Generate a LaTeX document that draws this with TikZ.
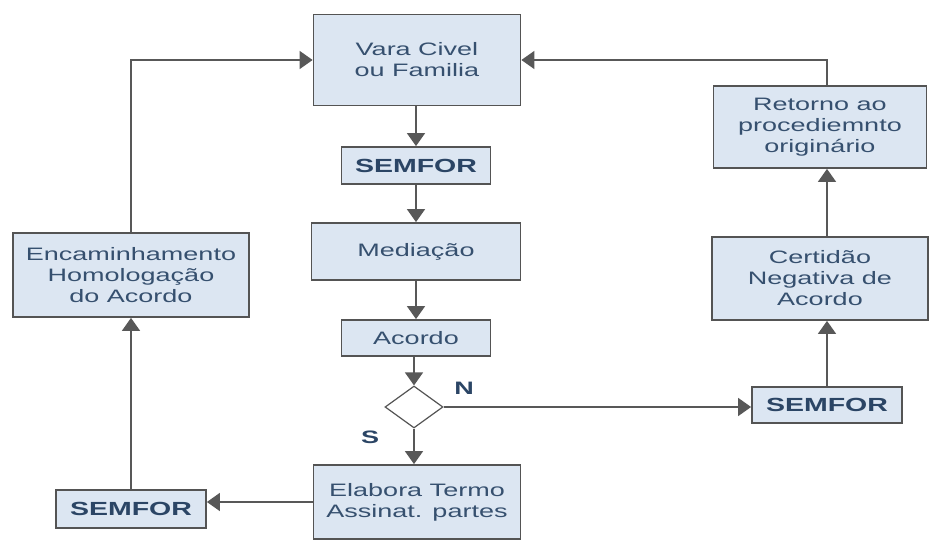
\documentclass[tikz,border=0pt]{standalone}
\usepackage{fontspec}
\setmainfont{Liberation Sans}[FakeStretch=1.5]
\usetikzlibrary{arrows.meta,shapes.geometric}
\definecolor{boxfill}{HTML}{DCE6F2}
\definecolor{boxline}{HTML}{545454}
\definecolor{txtc}{HTML}{36506F}
\definecolor{boldc}{HTML}{2B4565}
\definecolor{arrc}{HTML}{585858}
\tikzset{
  stepbox/.style={draw=boxline, line width=1.8pt, fill=boxfill, text=txtc, align=center, inner sep=0pt, font=\fontsize{18}{21}\selectfont},
  semforbox/.style={stepbox, text=boldc, font=\fontsize{19}{21}\selectfont\bfseries, minimum width=149pt, minimum height=37pt},
  arr/.style={draw=arrc, line width=1.5pt, -{Triangle[length=13pt,width=18pt]}},
  lbl/.style={text=boldc, font=\fontsize{18}{20}\selectfont\bfseries, inner sep=0pt}
}
\begin{document}
\begin{tikzpicture}[x=1pt,y=-1pt]
\useasboundingbox[fill=white] (0,0) rectangle (929,545);
% central column
\node[stepbox, minimum width=207pt, minimum height=91pt] (vara) at (417,60) {Vara Civel\\ou Familia};
\node[semforbox] (sem1) at (416,165.5) {SEMFOR};
\node[stepbox, minimum width=209pt, minimum height=57pt] (med) at (416,251.5) {Mediação};
\node[stepbox, minimum width=149pt, minimum height=36pt] (acordo) at (416,338) {Acordo};
\node[diamond, draw=boxline, line width=1.2pt, fill=white, minimum width=58pt, minimum height=42pt, inner sep=0pt] (dec) at (414,407) {};
\node[stepbox, minimum width=207pt, minimum height=74pt] (elab) at (417,502) {Elabora Termo\\Assinat. partes};
% left column
\node[semforbox, minimum width=150pt, minimum height=38pt] (sem2) at (131,509) {SEMFOR};
\node[stepbox, minimum width=236pt, minimum height=84pt] (enc) at (131,275) {Encaminhamento\\Homologação\\do Acordo};
% right column
\node[semforbox, minimum width=150pt, minimum height=36pt] (sem3) at (827,405) {SEMFOR};
\node[stepbox, minimum width=216pt, minimum height=83pt] (cert) at (820,278.5) {Certidão\\Negativa de\\Acordo};
\node[stepbox, minimum width=213pt, minimum height=82pt] (ret) at (820,127) {Retorno ao\\procediemnto\\originário};
% labels
\node[lbl] (lN) at (464,388) {N};
\node[lbl] (lS) at (370,437) {S};
% connectors
\draw[arr] (vara.south -| sem1.north) -- (sem1.north);
\draw[arr] (sem1.south) -- (med.north -| sem1.south);
\draw[arr] (med.south -| acordo.north) -- (acordo.north);
\draw[arr] (acordo.south -| dec.north) -- (dec.north);
\draw[arr] (dec.south) -- (elab.north -| dec.south);
\draw[arr] (elab.west) -- (elab.west -| sem2.east);
\draw[arr] (sem2.north) -- (enc.south -| sem2.north);
\draw[arr] (enc.north) |- (vara.west);
\draw[arr] (dec.east) -- (dec.east -| sem3.west);
\draw[arr] (sem3.north) -- (cert.south -| sem3.north);
\draw[arr] (cert.north -| sem3.north) -- (ret.south -| sem3.north);
\draw[arr] (ret.north -| sem3.north) |- (vara.east);
\end{tikzpicture}
\end{document}
